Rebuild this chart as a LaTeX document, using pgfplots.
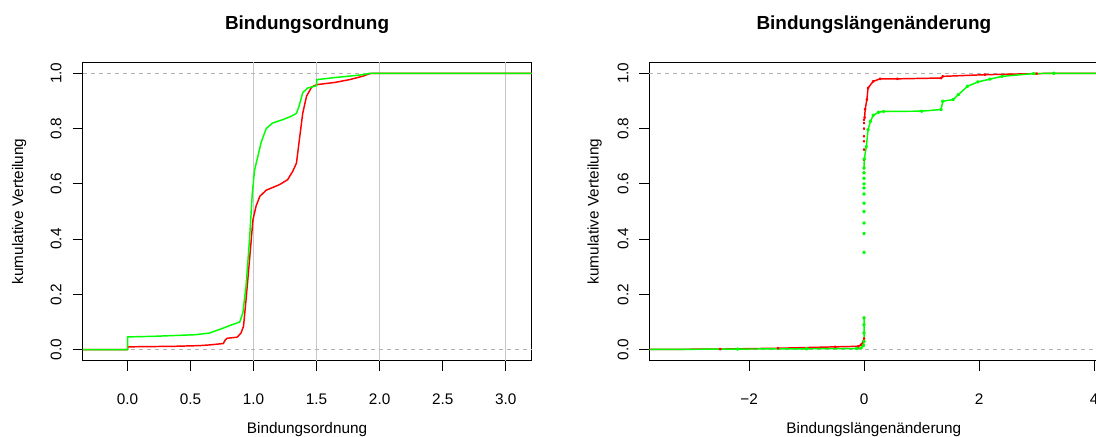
\documentclass[border=0pt]{standalone}
\usepackage{fontspec}
\setmainfont{Liberation Sans}
\usepackage{pgfplots}
\pgfplotsset{compat=1.18}
\definecolor{rred}{HTML}{FF0000}
\definecolor{rgreen}{HTML}{00FF00}
\definecolor{gridgray}{HTML}{C8C8C8}
\definecolor{refgray}{HTML}{B3B3B3}
\pgfplotsset{rpanel/.style={scale only axis, width=336.75pt, height=223.8pt,
  anchor=south west, ymin=-0.04, ymax=1.04, ytick={0,0.2,0.4,0.6,0.8,1},
  yticklabels={0.0,0.2,0.4,0.6,0.8,1.0},
  axis line style={line width=0.8pt}, tick style={black, line width=0.6pt},
  tick align=outside, major tick length=7.5pt,
  xtick pos=bottom, ytick pos=left,
  tick label style={font=\fontsize{11.5}{13}\selectfont},
  label style={font=\fontsize{11.5}{13}\selectfont},
  title style={font=\fontsize{14.2}{16}\selectfont\bfseries, at={(0.5,1)},
    anchor=base, yshift=18.5pt},
  xticklabel style={anchor=base, yshift=-25.7pt},
  yticklabel style={rotate=90, anchor=base, yshift=8.3pt},
  xlabel style={at={(axis description cs:0.5,0)}, anchor=base, yshift=-54.5pt},
  ylabel={kumulative Verteilung},
  extra y ticks={0,1}, extra y tick labels={},
  extra y tick style={major tick length=0pt, grid=major,
    major grid style={refgray, dash pattern=on 3pt off 3pt, line width=0.6pt}},
  every axis plot/.append style={line width=1.1pt, line join=round}}}

\begin{document}
\begin{tikzpicture}
% links: Bindungsordnung
\begin{axis}[rpanel, at={(61.9pt,56.5pt)}, xmin=-0.357, xmax=3.205,
  xtick={0,0.5,1,1.5,2,2.5,3}, xticklabels={0.0,0.5,1.0,1.5,2.0,2.5,3.0},
  extra x ticks={1,1.5,2,3}, extra x tick labels={},
  extra x tick style={major tick length=0pt, grid=major,
    major grid style={gridgray, line width=0.8pt}},
  title={Bindungsordnung}, xlabel={Bindungsordnung},
  ylabel style={at={(axis description cs:0,0.5)}, anchor=base, yshift=44.6pt}]
\addplot[rred, no marks] coordinates {(-0.5,0) (0,0) (0,0.01) (0.37,0.012)
  (0.574,0.0145) (0.65,0.017) (0.76,0.022) (0.775,0.035) (0.79,0.041)
  (0.87,0.045) (0.90,0.06) (0.92,0.084) (0.94,0.18) (0.968,0.326)
  (0.995,0.47) (1.02,0.52) (1.05,0.555) (1.10,0.577) (1.205,0.597)
  (1.27,0.615) (1.31,0.645) (1.34,0.675) (1.36,0.748) (1.39,0.856)
  (1.42,0.917) (1.46,0.95) (1.50,0.959) (1.645,0.967) (1.76,0.977)
  (1.87,0.99) (1.92,0.999) (1.96,1.0) (3.4,1.0)};
\addplot[rgreen, no marks] coordinates {(-0.5,0) (0,0) (0,0.046) (0.2,0.048)
  (0.37,0.051) (0.54,0.054) (0.65,0.06) (0.76,0.078) (0.81,0.087)
  (0.89,0.10) (0.915,0.133) (0.94,0.23) (0.968,0.40) (0.99,0.567)
  (1.008,0.65) (1.034,0.70) (1.06,0.75) (1.10,0.80) (1.15,0.82)
  (1.23,0.832) (1.30,0.845) (1.34,0.855) (1.36,0.88) (1.39,0.93)
  (1.43,0.947) (1.50,0.955) (1.50,0.977) (1.65,0.985) (1.76,0.99)
  (1.87,0.995) (1.92,1.0) (3.4,1.0)};
\end{axis}
% rechts: Bindungslaengenaenderung
\begin{axis}[rpanel, at={(487pt,56.5pt)}, xmin=-3.734, xmax=4.075,
  xtick={-2,0,2,4}, xticklabels={−2,0,2,4},
  title={Bindungslängenänderung}, xlabel={Bindungslängenänderung},
  ylabel style={at={(axis description cs:0,0.5)}, anchor=base, yshift=38pt},
  unbounded coords=jump]
\addplot[rred, mark=*, mark size=0.55pt] coordinates {(-4.2,0) (-2.5,0.002)
  (-1.5,0.005) (-0.5,0.01) (-0.1,0.012) (-0.05,0.018) (-0.01,0.03) (0,0.04)
  (nan,nan) (0.01,0.84) (0.02,0.87) (0.05,0.905) (0.07,0.947) (0.16,0.971)
  (0.28,0.98) (0.58,0.98) (1.34,0.983) (1.37,0.989) (2.1,0.995) (3.0,0.999)
  (3.3,1.0) (4.3,1.0)};
\addplot[rred, only marks, mark=*, mark size=0.5pt] coordinates {(0,0.115)
  (0,0.64) (0,0.657) (0,0.687) (0,0.724) (0,0.754) (0,0.772) (0,0.80)
  (0,0.82) (0,0.832)};
\addplot[rgreen, mark=*, mark size=0.8pt] coordinates {(-4.2,0) (-2.2,0.002)
  (-1,0.003) (-0.13,0.004) (-0.05,0.006) (-0.01,0.015) (0,0.03) (0,0.06)
  (0,0.09) (0,0.115) (nan,nan) (0,0.657) (0.005,0.69) (0.04,0.735)
  (0.07,0.796) (0.11,0.826) (0.16,0.848) (0.25,0.859) (0.34,0.862)
  (1.0,0.863) (1.34,0.869) (1.37,0.899) (1.55,0.905) (1.64,0.923)
  (1.8,0.953) (1.98,0.969) (2.19,0.979) (2.4,0.989) (2.95,0.999)
  (3.3,1.0) (4.3,1.0)};
\addplot[rgreen, only marks, mark=*, mark size=0.8pt] coordinates {(0,0.352)
  (0,0.42) (0,0.458) (0,0.50) (0,0.53) (0,0.563) (0,0.585) (0,0.60)
  (0,0.62) (0,0.64)};
\end{axis}
\pgfresetboundingbox
\useasboundingbox (0,0) rectangle (822pt,327pt);
\end{tikzpicture}
\end{document}
